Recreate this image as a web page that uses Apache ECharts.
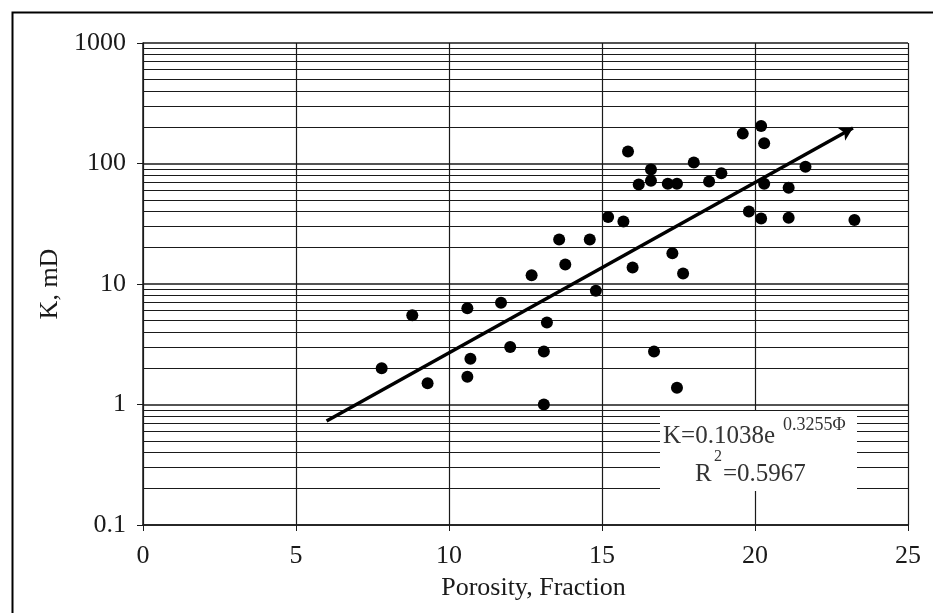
<!DOCTYPE html>
<html>
<head>
<meta charset="utf-8">
<script src="https://cdn.jsdelivr.net/npm/echarts@6/dist/echarts.min.js"></script>
<style>
html, body { margin: 0; padding: 0; background: #fff; }
#chart { width: 933px; height: 613px; }
</style>
</head>
<body>
<div id="chart"></div>
<script>
// measured samples, porosity (%) vs permeability (mD)
const porosity = [7.8, 8.8, 9.3, 10.6, 10.6, 10.7, 11.7, 12.0, 12.7, 13.2, 13.1, 13.1,
  13.6, 13.8, 14.6, 14.8, 15.2, 15.7, 15.85, 16.0, 16.2, 16.6, 16.6, 17.15, 17.45,
  17.3, 17.65, 18.0, 18.5, 18.9, 19.6, 20.2, 20.3, 19.8, 20.2, 20.3, 21.65, 21.1,
  21.1, 23.25, 16.7, 17.45]
const permeability = [2.0, 5.5, 1.5, 6.3, 1.7, 2.4, 7.0, 3.0, 11.8, 4.8, 2.75, 1.0,
  23.4, 14.5, 23.4, 8.8, 36, 33, 126, 13.7, 67, 89, 72, 68, 68,
  18, 12.2, 102, 71, 83, 177, 205, 147, 40, 35, 68, 94, 63,
  35.5, 34, 2.75, 1.38]

// exponential fit end points
const trendPorosity = [6, 23.2]
const trendK = [0.73, 197]

const xTicks = [0, 5, 10, 15, 20, 25]
const yTickLabels = ['0.1', '1', '10', '100', '1000']
const yDecades = [0.1, 1, 10, 100]

const xName = 'Porosity, Fraction'
const yName = 'K, mD'
const fitMain = 'K=0.1038e'
const fitExp = '0.3255Φ'
const r2Main = 'R'
const r2Sup = '2'
const r2Value = '=0.5967'

const FONT = '"Liberation Serif", "DejaVu Serif", serif'
const ink = '#1a1a1a'

// minor grid lines at 2..9 of each decade
const minorLines = []
yDecades.forEach(d => {
  for (let m = 2; m <= 9; m++) minorLines.push({ yAxis: d * m })
})

const chart = echarts.init(document.getElementById('chart'))

const option = {
  animation: false,
  backgroundColor: '#fff',
  grid: { left: 143, right: 25, top: 43, bottom: 88, containLabel: false },
  xAxis: {
    type: 'value',
    min: xTicks[0],
    max: xTicks[xTicks.length - 1],
    interval: xTicks[1] - xTicks[0],
    name: xName,
    nameLocation: 'middle',
    nameGap: 50,
    nameTextStyle: { fontFamily: FONT, fontSize: 26, color: ink, padding: [0, 0, 0, 16] },
    axisLine: { lineStyle: { color: ink, width: 1.5 } },
    axisTick: { show: true, inside: false, length: 6, lineStyle: { color: ink } },
    axisLabel: { fontFamily: FONT, fontSize: 26, color: ink, margin: 18 },
    splitLine: { show: true, lineStyle: { color: ink, width: 1.2 } }
  },
  yAxis: {
    type: 'log',
    logBase: 10,
    min: 0.1,
    max: 1000,
    name: yName,
    nameLocation: 'middle',
    nameRotate: 90,
    nameGap: 74,
    nameTextStyle: { fontFamily: FONT, fontSize: 26, color: ink },
    axisLine: { lineStyle: { color: ink, width: 1.5 } },
    axisTick: { show: true, inside: false, length: 6, lineStyle: { color: ink } },
    axisLabel: {
      fontFamily: FONT, fontSize: 26, color: ink, margin: 17,
      formatter(value) {
        const hit = yTickLabels.find(t => Math.abs(Math.log10(Number(t)) - Math.log10(value)) < 1e-6)
        return hit || ''
      }
    },
    splitLine: { show: true, lineStyle: { color: ink, width: 1.5 } }
  },
  series: [
    {
      name: 'grid',
      type: 'line',
      data: [],
      silent: true,
      markLine: {
        silent: true,
        symbol: ['none', 'none'],
        label: { show: false },
        lineStyle: { color: ink, type: 'solid', width: 1.2 },
        data: minorLines
      }
    },
    {
      name: 'Samples',
      type: 'scatter',
      data: porosity.map((p, i) => [p, permeability[i]]),
      symbol: 'circle',
      symbolSize: 12,
      itemStyle: { color: '#000', opacity: 1 },
      z: 5
    },
    {
      name: 'Fit',
      type: 'line',
      data: trendPorosity.map((p, i) => ({
        value: [p, trendK[i]],
        symbol: i === trendPorosity.length - 1 ? 'arrow' : 'none',
        symbolSize: [11, 13],
        symbolRotate: -61
      })),
      lineStyle: { color: '#000', width: 3.5 },
      itemStyle: { color: '#000' },
      z: 6
    }
  ],
  graphic: [
    {
      type: 'rect', left: 10, top: 10, z: 100,
      shape: { width: 960, height: 640 },
      style: { fill: 'none', stroke: '#000', lineWidth: 2 }
    },
    {
      type: 'rect', left: 660, top: 411, z: 50,
      shape: { width: 197, height: 80 },
      style: { fill: '#fff' }
    },
    {
      type: 'text', x: 663, y: 436, z: 51,
      style: { text: fitMain, font: '25px ' + FONT, fill: '#333', textVerticalAlign: 'middle', verticalAlign: 'middle' }
    },
    {
      type: 'text', x: 783, y: 425, z: 51,
      style: { text: fitExp, font: '18px ' + FONT, fill: '#333', textVerticalAlign: 'middle', verticalAlign: 'middle' }
    },
    {
      type: 'text', x: 695, y: 474, z: 51,
      style: { text: r2Main, font: '25px ' + FONT, fill: '#333', textVerticalAlign: 'middle', verticalAlign: 'middle' }
    },
    {
      type: 'text', x: 714, y: 457, z: 51,
      style: { text: r2Sup, font: '16px ' + FONT, fill: '#333', textVerticalAlign: 'middle', verticalAlign: 'middle' }
    },
    {
      type: 'text', x: 723, y: 474, z: 51,
      style: { text: r2Value, font: '25px ' + FONT, fill: '#333', textVerticalAlign: 'middle', verticalAlign: 'middle' }
    }
  ]
}

chart.setOption(option)
window.addEventListener('resize', () => chart.resize())
</script>
</body>
</html>
